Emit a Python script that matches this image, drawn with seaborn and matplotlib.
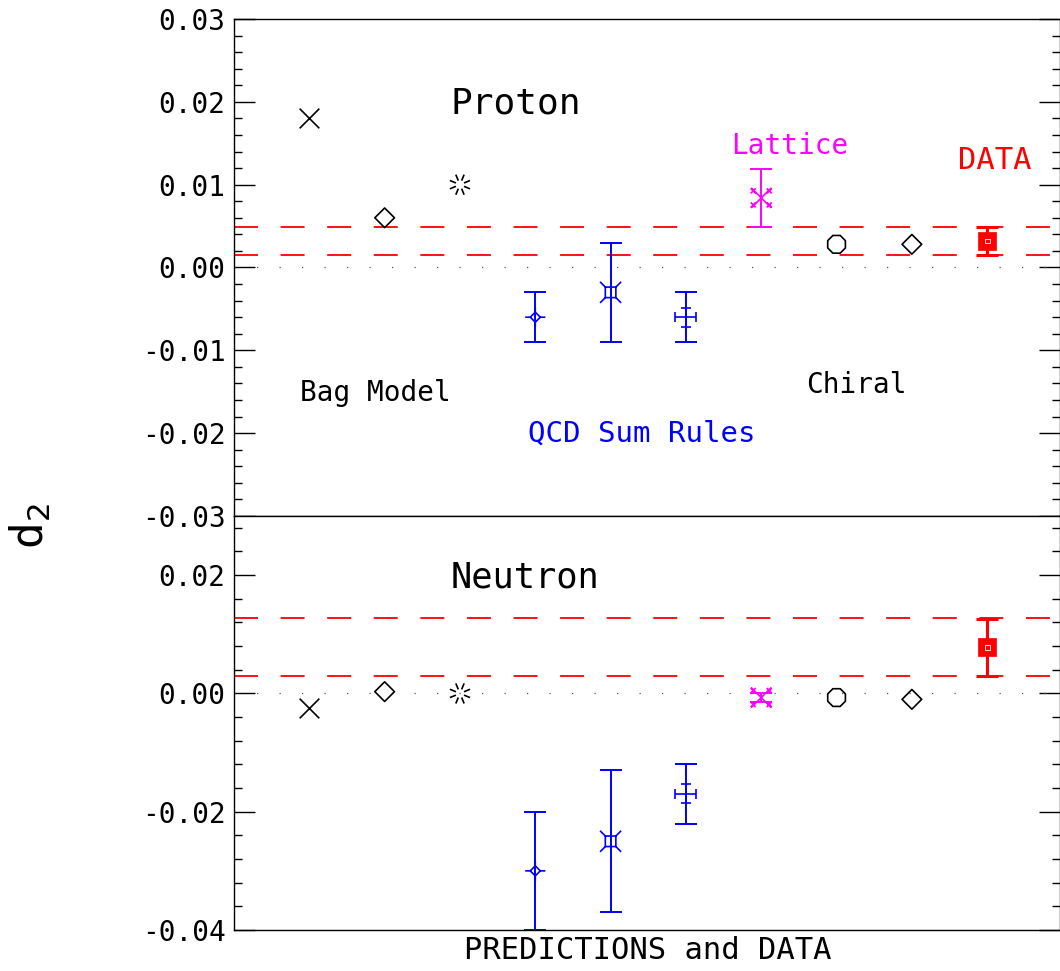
import numpy as np
import matplotlib
matplotlib.use("Agg")
import matplotlib.pyplot as plt
from matplotlib.path import Path
from matplotlib.ticker import MultipleLocator, FixedLocator, FixedFormatter
import seaborn as sns
import pandas as pd

sns.set_style("ticks")
plt.rcParams['font.family'] = ['DejaVu Sans Mono', 'DejaVu Sans']
plt.rcParams['text.color'] = 'black'
plt.rcParams['ytick.color'] = 'black'
plt.rcParams['axes.edgecolor'] = 'black'

# predictions, left to right
models = ['Bag1', 'Bag2', 'Bag3', 'QCD1', 'QCD2', 'QCD3', 'Lattice', 'Chiral1', 'Chiral2', 'DATA']
proton_d2 = [0.018, 0.006, 0.010, -0.006, -0.003, -0.006, 0.0084, 0.0028, 0.0028, 0.0032]
proton_err = [0, 0, 0, 0.003, 0.006, 0.003, 0.0035, 0, 0, 0.0017]
neutron_d2 = [-0.0024, 0.0003, 0.0, -0.030, -0.025, -0.017, -0.0007, -0.0007, -0.001, 0.0078]
neutron_err = [0, 0, 0, 0.010, 0.012, 0.005, 0.0007, 0, 0, 0.0048]
proton_band = [0.0015, 0.0049]
neutron_band = [0.0030, 0.0127]


def seg_path(segs):
    verts, codes = [], []
    for (a, b) in segs:
        verts += [a, b]
        codes += [Path.MOVETO, Path.LINETO]
    return Path(verts, codes)


# custom marker shapes
ang = np.deg2rad(np.arange(0, 360, 45) + 22.5)
burst = seg_path([((0.4 * np.cos(t), 0.4 * np.sin(t)), (np.cos(t), np.sin(t))) for t in ang])
diam_plus = seg_path([((-0.5, 0), (0, 0.5)), ((0, 0.5), (0.5, 0)), ((0.5, 0), (0, -0.5)), ((0, -0.5), (-0.5, 0)),
                      ((-1, 0), (-0.5, 0)), ((0.5, 0), (1, 0)), ((0, -1), (0, -0.5)), ((0, 0.5), (0, 1))])
sq_x = seg_path([((-0.5, -0.5), (0.5, -0.5)), ((0.5, -0.5), (0.5, 0.5)), ((0.5, 0.5), (-0.5, 0.5)), ((-0.5, 0.5), (-0.5, -0.5)),
                 ((0.5, 0.5), (1, 1)), ((-0.5, 0.5), (-1, 1)), ((0.5, -0.5), (1, -1)), ((-0.5, -0.5), (-1, -1))])
plus_cap = seg_path([((-1, 0), (1, 0)), ((-1, -0.5), (-1, 0.5)), ((1, -0.5), (1, 0.5)),
                     ((0, -0.9), (0, 0.9)), ((-0.5, 0.9), (0.5, 0.9)), ((-0.5, -0.9), (0.5, -0.9))])
lat_segs = [((-1, -1), (1, 1)), ((-1, 1), (1, -1))]
for cx, cy in [(-0.8, 0.7), (0.8, 0.7), (-0.8, -0.7), (0.8, -0.7)]:
    lat_segs += [((cx - 0.25, cy - 0.25), (cx + 0.25, cy + 0.25)), ((cx - 0.25, cy + 0.25), (cx + 0.25, cy - 0.25))]
lattice = seg_path(lat_segs)

# marker, size, colour, filled
styles = [('x', 200, 'black', False), ('D', 100, 'black', False), (burst, 210, 'black', False),
          (diam_plus, 210, 'blue', False), (sq_x, 230, 'blue', False), (plus_cap, 230, 'blue', False),
          (lattice, 230, 'magenta', False), ('8', 190, 'black', False), ('D', 100, 'black', False),
          ('s', 150, 'red', True)]

fig = plt.figure(figsize=(10.6, 9.71), dpi=100)
ax_p = fig.add_axes([234 / 1060, 1 - 516 / 971, (1059.5 - 234) / 1060, (516 - 19) / 971])
ax_n = fig.add_axes([234 / 1060, 1 - 930 / 971, (1059.5 - 234) / 1060, (930 - 516) / 971])

xs = np.arange(1, len(models) + 1)


def draw_panel(ax, vals, errs, band):
    df = pd.DataFrame({'x': xs, 'y': vals, 'err': errs, 'model': models})
    for b in band:
        ax.axhline(b, color='red', ls=(0, (13.3, 12.5)), lw=1.3, zorder=1)
    ax.axhline(0, color='#555555', ls=(0, (1, 17)), lw=0.9, zorder=1)
    for i, row in df.iterrows():
        m, s, c, filled = styles[i]
        if row['err'] > 0:
            lw = 2.2 if c == 'red' else 1.4
            ax.errorbar(row['x'], row['y'], yerr=row['err'], fmt='none', ecolor=c,
                        elinewidth=lw, capsize=8, capthick=lw, zorder=2)
        if filled:
            sns.scatterplot(x=[row['x']], y=[row['y']], marker=m, s=s, color=c,
                            edgecolor=c, linewidth=0.5, ax=ax, zorder=3, legend=False)
            sns.scatterplot(x=[row['x']], y=[row['y']], marker='s', s=12, facecolor='none',
                            edgecolor='white', linewidth=0.6, ax=ax, zorder=4, legend=False)
        elif m == 'x':
            sns.scatterplot(x=[row['x']], y=[row['y']], marker=m, s=s, color=c,
                            linewidth=1.2, ax=ax, zorder=3, legend=False)
        else:
            sns.scatterplot(x=[row['x']], y=[row['y']], marker=m, s=s, facecolor='none',
                            edgecolor=c, linewidth=1.2, ax=ax, zorder=3, legend=False)
    ax.set_xlim(0, 10.96)
    ax.set_xticks([])
    ax.set_xlabel('')
    ax.set_ylabel('')
    ax.tick_params(axis='y', which='both', direction='in', left=True, right=True,
                   labelsize=20, width=1, pad=6)
    ax.tick_params(axis='y', which='major', length=15)
    ax.tick_params(axis='y', which='minor', length=6)
    for sp in ax.spines.values():
        sp.set_linewidth(1.0)
        sp.set_color('black')


draw_panel(ax_p, proton_d2, proton_err, proton_band)
ax_p.set_ylim(-0.03, 0.03)
ax_p.yaxis.set_major_locator(FixedLocator([-0.03, -0.02, -0.01, 0.0, 0.01, 0.02, 0.03]))
ax_p.yaxis.set_major_formatter(FixedFormatter(['-0.03', '-0.02', '-0.01', '0.00', '0.01', '0.02', '0.03']))
ax_p.yaxis.set_minor_locator(MultipleLocator(0.002))

draw_panel(ax_n, neutron_d2, neutron_err, neutron_band)
ax_n.set_ylim(-0.04, 0.03)
ax_n.yaxis.set_major_locator(FixedLocator([-0.04, -0.02, 0.0, 0.02]))
ax_n.yaxis.set_major_formatter(FixedFormatter(['-0.04', '-0.02', '0.00', '0.02']))
ax_n.yaxis.set_minor_locator(MultipleLocator(0.004))

# annotations
ax_p.text(2.87, 0.0198, 'Proton', fontsize=26, va='center')
ax_p.text(6.6, 0.0147, 'Lattice', fontsize=20, va='center', color='magenta')
ax_p.text(9.61, 0.0129, 'DATA', fontsize=22, va='center', color='red')
ax_p.text(0.88, -0.0152, 'Bag Model', fontsize=20, va='center')
ax_p.text(7.6, -0.0142, 'Chiral', fontsize=20, va='center')
ax_p.text(3.9, -0.0201, 'QCD Sum Rules', fontsize=21, va='center', color='blue')
ax_n.text(2.87, 0.0196, 'Neutron', fontsize=25.5, va='center')

fig.text(648 / 1060, 1 - 950 / 971, 'PREDICTIONS and DATA', fontsize=22, ha='center', va='center')
fig.text(30 / 1060, 1 - 526 / 971, 'd$_2$', fontsize=32, rotation=90, ha='center', va='center')

fig.savefig('out.png', dpi=100)
